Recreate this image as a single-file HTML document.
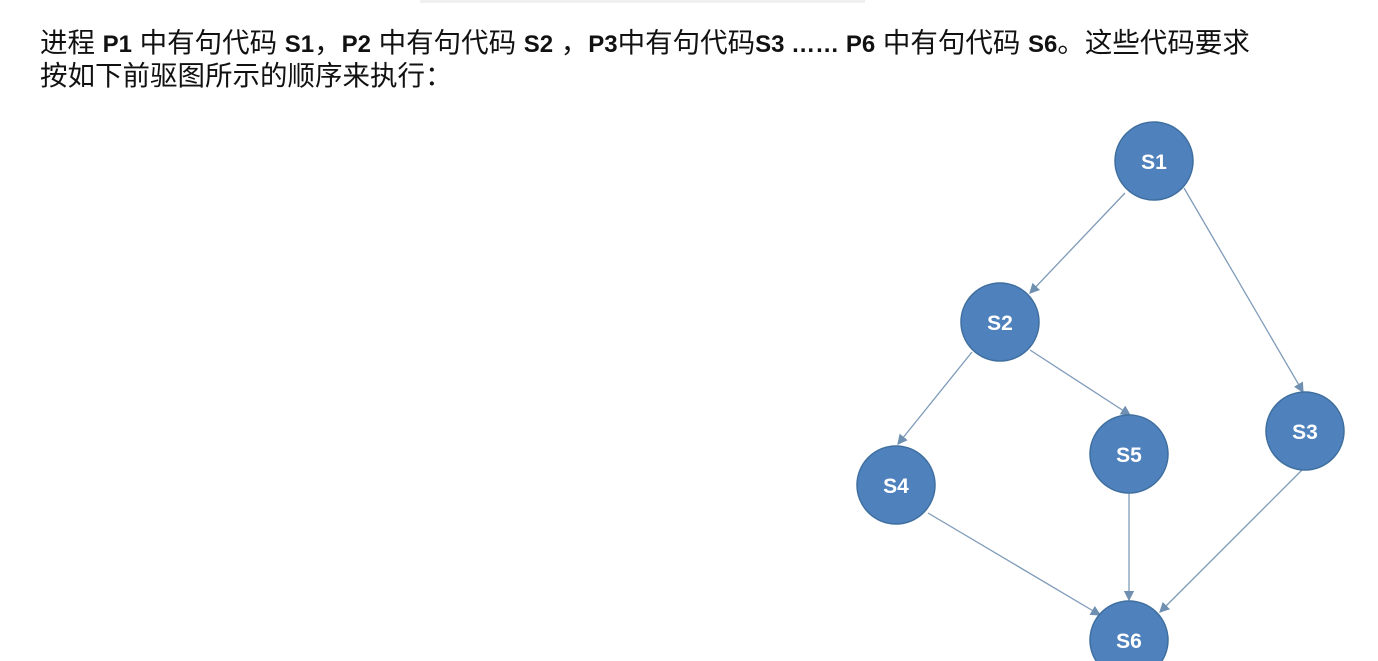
<!DOCTYPE html>
<html><head><meta charset="utf-8"><style>
body{margin:0;width:1378px;height:661px;background:#fff;overflow:hidden;position:relative;font-family:"Liberation Sans","Noto Sans CJK SC",sans-serif;}
.t{position:absolute;left:40px;font-size:27.5px;color:#111;white-space:nowrap;line-height:32px;}
.t b{font-size:24px;}
</style></head><body>
<div style="position:absolute;left:420px;top:0;width:445px;height:3px;background:#f0f0f0"></div>
<div class="t" style="top:27px">进程 <b>P1</b> 中有句代码 <b>S1</b>，<b>P2</b> 中有句代码 <b>S2</b> ，<b>P3</b>中有句代码<b>S3 …… P6</b> 中有句代码 <b>S6</b>。这些代码要求</div>
<div class="t" style="top:60px">按如下前驱图所示的顺序来执行：</div>
<svg width="1378" height="661" style="position:absolute;left:0;top:0">
<defs><marker id="a" markerWidth="8" markerHeight="8" refX="7" refY="4" orient="auto"><path d="M0,0 L8,4 L0,8 z" fill="#6f90b0"/></marker></defs>
<g stroke="#7f9bb8" stroke-width="1.3" marker-end="url(#a)">
<line x1="1125" y1="193" x2="1030" y2="293"/>
<line x1="1184" y1="188" x2="1303" y2="392"/>
<line x1="972" y1="352" x2="898" y2="444"/>
<line x1="1030" y1="350" x2="1130" y2="415"/>
<line x1="1129" y1="493" x2="1129" y2="600"/>
<line x1="928" y1="513" x2="1100" y2="615"/>
<line x1="1302" y1="470" x2="1160" y2="612"/>
</g>
<g fill="#4f81bd" stroke="#3f6f9f" stroke-width="1.5">
<circle cx="1154" cy="161" r="39"/>
<circle cx="1000" cy="322" r="39"/>
<circle cx="1305" cy="431" r="39"/>
<circle cx="896" cy="485" r="39"/>
<circle cx="1129" cy="454" r="39"/>
<circle cx="1129" cy="640" r="39"/>
</g>
<g fill="#fff" font-family="Liberation Sans, sans-serif" font-size="21" font-weight="bold" text-anchor="middle">
<text x="1154" y="169">S1</text>
<text x="1000" y="330">S2</text>
<text x="1305" y="439">S3</text>
<text x="896" y="493">S4</text>
<text x="1129" y="462">S5</text>
<text x="1129" y="648">S6</text>
</g>
</svg>
</body></html>
